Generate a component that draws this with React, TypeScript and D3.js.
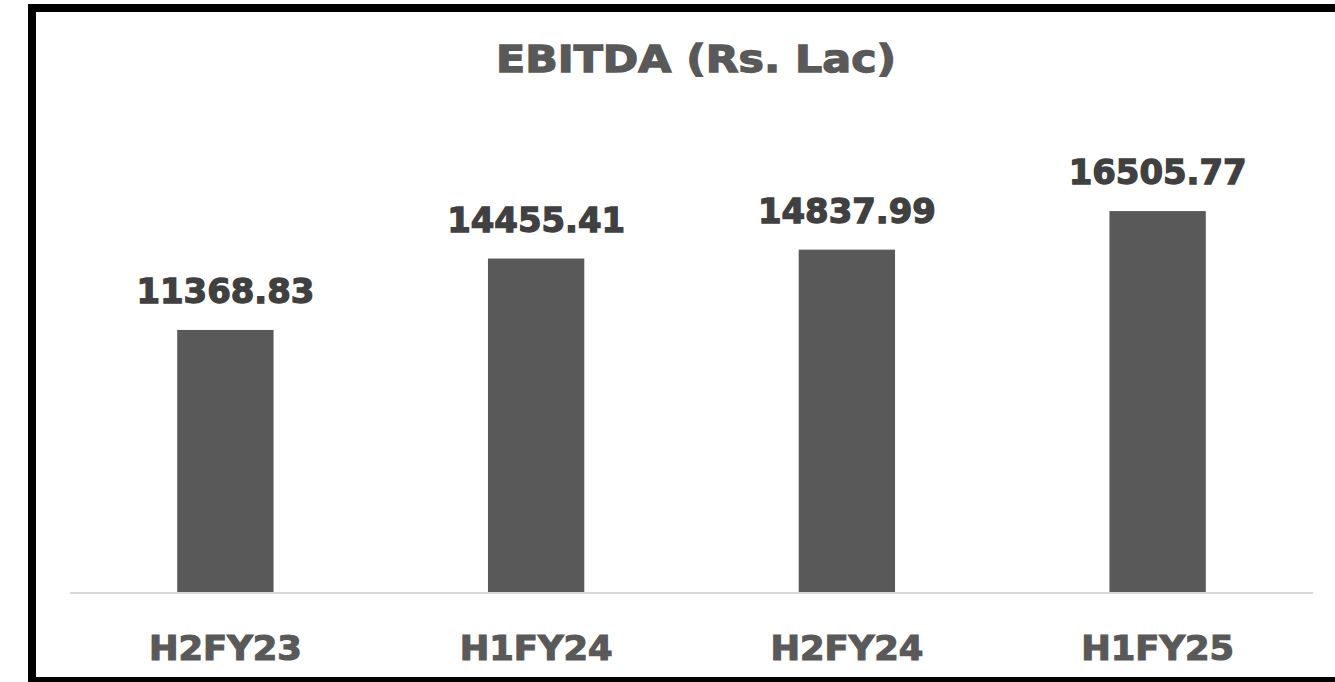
import React from "react";
import * as d3 from "d3";

const categories = ["H2FY23", "H1FY24", "H2FY24", "H1FY25"];
const values = [11368.83, 14455.41, 14837.99, 16505.77];
const valueLabels = ["11368.83", "14455.41", "14837.99", "16505.77"];
const title = "EBITDA (Rs. Lac)";

const W = 1335;
const H = 682;
const FONT = "'DejaVu Sans', 'Liberation Sans', Arial, sans-serif";

export default function App() {
  const x = d3
    .scaleBand<string>()
    .domain(categories)
    .range([70, 1313])
    .paddingInner(0.69)
    .paddingOuter(0.345);
  const y = d3.scaleLinear().domain([0, 18000]).range([593, 176.5]);

  return (
    <svg
      width={W}
      height={H}
      style={{ position: "absolute", left: 0, top: 0, background: "#fff" }}
    >
      <rect x={0} y={0} width={W} height={H} fill="#fff" />
      <text
        x={696}
        y={72}
        textAnchor="middle"
        fontFamily={FONT}
        fontWeight="bold"
        fontSize={37}
        fill="#595959"
        stroke="#595959"
        strokeWidth={1.3}
        textLength={400}
        lengthAdjust="spacingAndGlyphs"
      >
        {title}
      </text>
      {categories.map((c, i) => {
        const bx = x(c)!;
        const bw = x.bandwidth();
        const top = y(values[i]);
        return (
          <g key={c}>
            <rect x={bx} y={top} width={bw} height={y(0) - top} fill="#595959" />
            <text
              x={bx + bw / 2}
              y={top - 27}
              textAnchor="middle"
              fontFamily={FONT}
              fontWeight="bold"
              fontSize={34}
              fill="#404040"
              stroke="#404040"
              strokeWidth={1.3}
              textLength={178}
              lengthAdjust="spacingAndGlyphs"
            >
              {valueLabels[i]}
            </text>
            <text
              x={bx + bw / 2}
              y={660}
              textAnchor="middle"
              fontFamily={FONT}
              fontWeight="bold"
              fontSize={34}
              fill="#595959"
              stroke="#595959"
              strokeWidth={1.2}
              textLength={153}
              lengthAdjust="spacingAndGlyphs"
            >
              {c}
            </text>
          </g>
        );
      })}
      <line x1={70} x2={1313} y1={593} y2={593} stroke="#d9d9d9" strokeWidth={2} />
      <rect
        x={32}
        y={8}
        width={1330}
        height={673}
        fill="none"
        stroke="#000"
        strokeWidth={8}
      />
    </svg>
  );
}
